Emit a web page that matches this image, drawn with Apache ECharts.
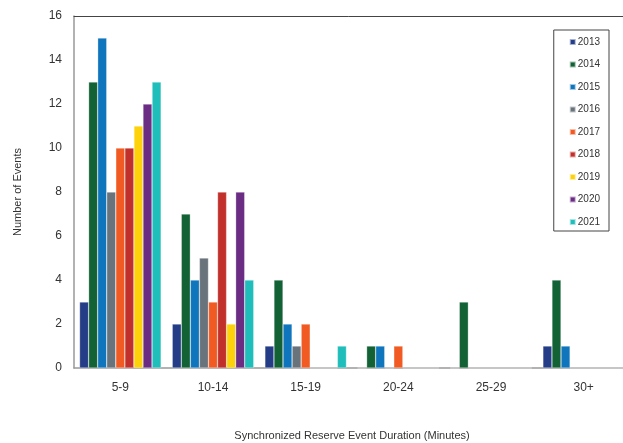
<!DOCTYPE html>
<html><head><meta charset="utf-8">
<script src="https://cdn.jsdelivr.net/npm/echarts@6/dist/echarts.min.js"></script>
<style>html,body{margin:0;padding:0;background:#fff}#c{width:623px;height:443px}</style>
</head><body><div id="c"></div>
<script>
const categories = ['5-9','10-14','15-19','20-24','25-29','30+'];
const years = ['2013','2014','2015','2016','2017','2018','2019','2020','2021'];
const v2013 = [3,2,1,0,0,1];
const v2014 = [13,7,4,1,3,4];
const v2015 = [15,4,2,1,0,1];
const v2016 = [8,5,1,0,0,0];
const v2017 = [10,3,2,1,0,0];
const v2018 = [10,8,0,0,0,0];
const v2019 = [11,2,0,0,0,0];
const v2020 = [12,8,0,0,0,0];
const v2021 = [13,4,1,0,0,0];
const yTicks = [0,2,4,6,8,10,12,14,16];
const values = [v2013,v2014,v2015,v2016,v2017,v2018,v2019,v2020,v2021];
const colors = ['#253C87','#136236','#0F75BC','#69737B','#F15A22','#C1302A','#FDD20A','#6B2C84','#1FBEBA'];
const font = "'Liberation Sans Narrow','Arial Narrow','Liberation Sans',Arial,sans-serif";
const chart = echarts.init(document.getElementById('c'), null, {renderer:'canvas'});
chart.setOption({
  animation:false,
  textStyle:{fontFamily:font},
  grid:{left:74, top:16, bottom:75, right:-7, containLabel:false, outerBoundsMode:'none'},
  legend:{
    orient:'vertical', right:14, top:30,
    backgroundColor:'#fff', borderColor:'#444', borderWidth:1,
    padding:[7,9,4,15], itemGap:12.5, itemWidth:6, itemHeight:6, icon:'rect',
    textStyle:{fontFamily:font, fontSize:10, color:'#333', padding:[0,0,0,-3]},
    data:years
  },
  xAxis:[{
    type:'category', data:categories,
    axisLine:{lineStyle:{color:'#999', width:1.5}},
    axisTick:{show:false},
    axisLabel:{fontFamily:font, fontSize:12, color:'#333', margin:14},
    name:'Synchronized Reserve Event Duration (Minutes)', nameLocation:'middle', nameGap:62,
    nameTextStyle:{fontFamily:font, fontSize:11, color:'#333'}
  },{
    type:'category', data:categories, position:'top',
    axisLine:{lineStyle:{color:'#444', width:1}}, axisTick:{show:false}, axisLabel:{show:false}
  }],
  yAxis:{
    type:'value', min:0, max:16, interval:2,
    axisLine:{show:true, lineStyle:{color:'#999', width:1.5}},
    axisTick:{show:false}, splitLine:{show:false},
    axisLabel:{fontFamily:font, fontSize:12, color:'#333', margin:12,
      customValues: yTicks},
    name:'Number of Events', nameLocation:'middle', nameGap:51, nameRotate:90,
    nameTextStyle:{fontFamily:font, fontSize:11, color:'#333'}
  },
  series: years.map((y,i)=>({
    name:y, type:'bar', data:values[i], barGap:'0%', barCategoryGap:'12%',
    itemStyle:{color:colors[i], borderColor:'rgba(255,255,255,0.6)', borderWidth:0.5}
  }))
});
</script></body></html>
